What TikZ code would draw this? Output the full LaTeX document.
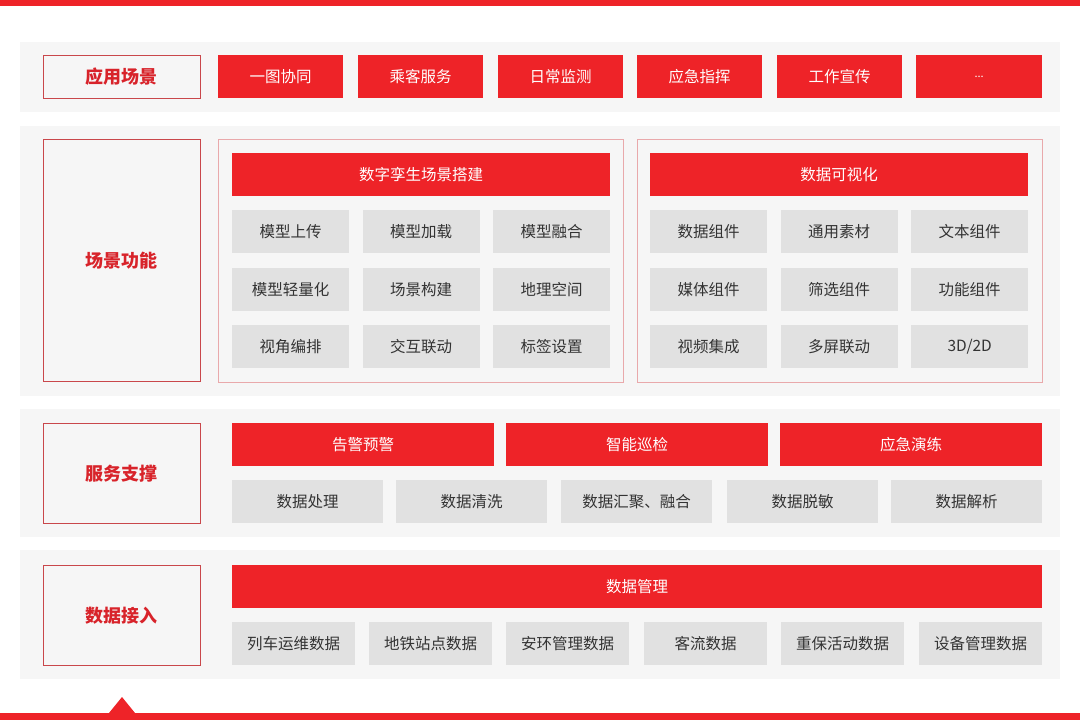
\documentclass[tikz,border=0pt]{standalone}
\usepackage{fontspec}
\setmainfont{Noto Sans CJK SC}
\usetikzlibrary{positioning}
\definecolor{barred}{HTML}{EE2328}
\definecolor{titlered}{HTML}{D8232A}
\definecolor{framered}{HTML}{C9474B}
\definecolor{panelred}{HTML}{E9A9AB}
\definecolor{bandgray}{HTML}{F6F6F6}
\definecolor{cellgray}{HTML}{E1E1E1}
\definecolor{celltext}{HTML}{333333}
\tikzset{
  band/.style={fill=bandgray,draw=none},
  title/.style={draw=framered,line width=0.9pt,anchor=north west,inner sep=0pt,
    minimum width=157pt,text=titlered,font=\fontsize{18}{18}\selectfont\bfseries},
  redcell/.style={fill=barred,draw=none,anchor=north west,inner sep=0pt,minimum height=43pt,
    text=white,font=\fontsize{15.5}{15.5}\selectfont},
  graycell/.style={fill=cellgray,draw=none,anchor=north west,inner sep=0pt,minimum height=43pt,
    text=celltext,font=\fontsize{15.5}{15.5}\selectfont},
  panel/.style={draw=panelred,line width=0.7pt,anchor=north west,inner sep=0pt,
    minimum width=405pt,minimum height=243pt}
}
\begin{document}
\begin{tikzpicture}[x=1pt,y=-1pt]
\useasboundingbox (0,0) rectangle (1080,720);
\fill[white] (0,0) rectangle (1080,720);
% red bars
\fill[barred] (0,0) rectangle (1080,6);
\fill[barred] (0,713) rectangle (1080,720);
\fill[barred] (109,713) -- (122,697) -- (135,713) -- cycle;
% bands
\fill[band] (20,42) rectangle (1060,112);
\fill[band] (20,126) rectangle (1060,396);
\fill[band] (20,409) rectangle (1060,537);
\fill[band] (20,550) rectangle (1060,679);

% layer 1
\node[title,minimum height=43pt] (app) at (43,55) {应用场景};
\foreach \x/\t [count=\i] in {218/一图协同,358/乘客服务,498/日常监测,637/应急指挥,777/工作宣传}
  \node[redcell,minimum width=125pt] (app\i) at (\x,55) {\t};
\node[redcell,minimum width=126pt] (app6) at (916,55) {\fontsize{11}{11}\selectfont ...};

% layer 2
\node[title,minimum height=242pt] (scene) at (43,139) {场景功能};
\node[panel] (twin) at (218,139) {};
\node[panel] (vis) at (637,139) {};
\node[redcell,minimum width=378pt] (twinhead) at (232,153) {数字孪生场景搭建};
\node[redcell,minimum width=378pt] (vishead) at (650,153) {数据可视化};
\foreach \t [count=\i from 0] in {模型上传,模型加载,模型融合,模型轻量化,场景构建,地理空间,视角编排,交互联动,标签设置}
  \pgfmathtruncatemacro\c{mod(\i,3)}
  \pgfmathtruncatemacro\r{div(\i,3)}
  \node[graycell,minimum width=117pt] (twin\i) at (232+130.5*\c,210+57.5*\r) {\t};
\foreach \t [count=\i from 0] in {数据组件,通用素材,文本组件,媒体组件,筛选组件,功能组件,视频集成,多屏联动,3D/2D}
  \pgfmathtruncatemacro\c{mod(\i,3)}
  \pgfmathtruncatemacro\r{div(\i,3)}
  \node[graycell,minimum width=117pt] (vis\i) at (650+130.5*\c,210+57.5*\r) {\t};

% layer 3
\node[title,minimum height=100pt] (serv) at (43,423) {服务支撑};
\foreach \x/\t [count=\i] in {232/告警预警,506/智能巡检,780/应急演练}
  \node[redcell,minimum width=262pt] (servhead\i) at (\x,423) {\t};
\foreach \x/\t [count=\i] in {232/数据处理,396/数据清洗,561/数据汇聚、融合,727/数据脱敏,891/数据解析}
  \node[graycell,minimum width=151pt] (serv\i) at (\x,480) {\t};

% layer 4
\node[title,minimum height=100pt] (data) at (43,565) {数据接入};
\node[redcell,minimum width=810pt] (datahead) at (232,565) {数据管理};
\foreach \x/\t [count=\i] in {232/列车运维数据,369/地铁站点数据,506/安环管理数据,644/客流数据,781/重保活动数据,919/设备管理数据}
  \node[graycell,minimum width=123pt] (data\i) at (\x,622) {\t};
\end{tikzpicture}
\end{document}
